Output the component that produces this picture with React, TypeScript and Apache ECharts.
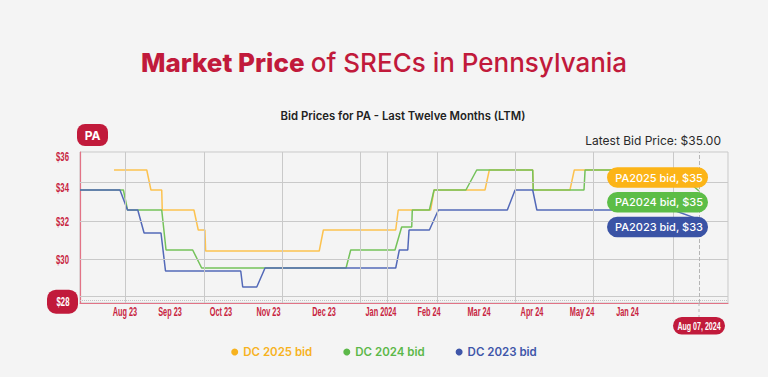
import React, { useEffect, useRef } from "react";
import * as echarts from "echarts";

// ---- data (x = days from the left edge of the window, y = bid price in $) ----
const seriesNames = ["DC 2025 bid", "DC 2024 bid", "DC 2023 bid"];
const pillLabels = ["PA2025 bid, $35", "PA2024 bid, $35", "PA2023 bid, $33"];

const dc2025: [number, number][] = [
  [18.9, 35], [37.1, 35], [39.4, 34], [45.4, 34], [45.7, 33], [63.3, 33],
  [65.7, 32], [69.4, 32], [69.8, 30.95], [132.9, 30.95], [135.2, 32], [175.4, 32],
  [176.8, 33], [194.8, 33], [196.7, 34], [225, 34], [227.4, 35], [251.5, 35],
  [251.8, 34], [272.2, 34], [274.6, 35], [343.9, 35],
];
const dc2024: [number, number][] = [
  [0, 34], [24.1, 34], [26.4, 33], [45.4, 33], [47.8, 31], [62.6, 31],
  [67.6, 30.1], [147.8, 30.1], [150.4, 31], [175, 31], [178.7, 32.15], [184.3, 32.15],
  [184.6, 33], [194.1, 33], [196.7, 34], [214.4, 34], [220.4, 35], [251.5, 35],
  [251.8, 34], [280, 34], [280.6, 35], [330.5, 35], [343.9, 33.95],
];
const dc2023: [number, number][] = [
  [0, 34], [22.2, 34], [26.4, 33], [32.1, 33], [35.6, 31.85], [45, 31.85],
  [47.5, 29.95], [89.3, 29.95], [90.4, 29.15], [98.2, 29.15], [102.8, 30.1], [175.4, 30.1],
  [177.4, 31], [182.1, 31], [182.8, 32], [194.1, 32], [199.1, 33], [237.4, 33],
  [241.7, 34], [251.5, 34], [253.8, 33], [329.4, 33], [343.9, 32.53],
];

const xTickValues = [25, 50, 78.3, 104.7, 135.6, 167.2, 193.9, 221.7, 251.1, 278.9, 304.2];
const xTickLabels = ["Aug 23", "Sep 23", "Oct 23", "Nov 23", "Dec 23", "Jan 2024", "Feb 24", "Mar 24", "Apr 24", "May 24", "Jan 24"];
const xGridValues = [25.4, 69.0, 112.4, 155.8, 170.9, 198.6, 241.8, 285.3, 329.4];
const yTickValues = [28.415, 30.535, 32.415, 34.1, 35.65];
const yTickLabels = ["$28", "$30", "$32", "$34", "$36"];
const yGridValues = [28.7, 30.535, 32.45, 34.365];
const yDotted = 28.5;
const xMin = 0;
const xMax = 360;
const yMin = 28.35;
const yMax = 35.9;
const latestDay = 343.9;
const latestDate = "Aug 07, 2024";
const latestPrice = "$35.00";

// ---- styles ----
const RED = "#c11a3b";
const LABEL_RED = "#c8243f";
const AXIS_RED = "#e27386";
const GRID = "#c9c9c9";
const BG = "#f4f4f4";
const lineColors = ["#fcc24f", "#74c25a", "#5369b8"];
const pillColors = ["#fcb417", "#5cbd47", "#3a53a5"];
const legendColors = ["#f7b21e", "#5cb849", "#3f56a9"];
const FONT = "Inter, 'Open Sans', sans-serif";
const COND = "'Liberation Sans', Arial, sans-serif";

export default function App() {
  const ref = useRef<HTMLDivElement>(null);
  useEffect(() => {
    document.body.style.margin = "0";
    document.body.style.background = BG;
    const chart = echarts.init(ref.current!, undefined, { renderer: "svg" });
    const allData = [dc2025, dc2024, dc2023];
    chart.setOption({
      animation: false,
      backgroundColor: BG,
      grid: {
        left: 80, right: 40, top: 152, bottom: 74,
        show: true, borderColor: GRID, borderWidth: 1, backgroundColor: "transparent",
        outerBoundsMode: "none",
      },
      legend: {
        left: "center", top: 341, icon: "circle", itemWidth: 7, itemHeight: 7, itemGap: 31,
        data: seriesNames.map((n, i) => ({
          name: n,
          itemStyle: { color: legendColors[i] },
          textStyle: { color: legendColors[i] },
        })),
        textStyle: { fontFamily: FONT, fontSize: 11.5, fontWeight: 600 },
        selectedMode: false,
      },
      xAxis: {
        type: "value", min: xMin, max: xMax,
        axisLine: { show: true, lineStyle: { color: AXIS_RED, width: 1.2 } },
        axisTick: { show: false },
        splitLine: { show: false },
        axisLabel: { show: false },
      },
      yAxis: {
        type: "value", min: yMin, max: yMax,
        axisLine: { show: true, lineStyle: { color: AXIS_RED, width: 1.2 } },
        axisTick: { show: false },
        splitLine: { show: false },
        axisLabel: { show: false },
      },
      series: [
        {
          type: "line", name: "grid", data: [], silent: true, z: 1,
          markLine: {
            silent: true, symbol: ["none", "none"], label: { show: false },
            emphasis: { disabled: true },
            lineStyle: { color: GRID, width: 1, type: "solid" },
            data: [
              ...xGridValues.map((v) => ({ xAxis: v })),
              ...yGridValues.map((v) => ({ yAxis: v })),
              { yAxis: yDotted, lineStyle: { type: "dotted", color: "#c4c4c4", width: 1 } },
              { xAxis: latestDay, lineStyle: { type: "dashed", color: "#b5b5b5", width: 1 } },
            ],
          },
        },
        ...seriesNames.map((n, i) => ({
          type: "line", name: n, data: allData[i], showSymbol: false, z: 2 + i,
          lineStyle: { color: lineColors[i], width: 1.5 },
          itemStyle: { color: lineColors[i] },
          emphasis: { disabled: true },
        })),
      ],
    });

    const toX = (v: number) => chart.convertToPixel({ xAxisIndex: 0 }, v) as number;
    const toY = (v: number) => chart.convertToPixel({ yAxisIndex: 0 }, v) as number;
    const px = toX(latestDay);
    const axisBottom = toY(yMin);
    const axisLeft = toX(xMin);
    const pillW = 101;
    const pillH = 20.5;
    const pillRight = px + 9;
    const pillTop0 = 167.3;
    const pillStep = 24.7;

    const xLabelEls = xTickValues.map((v, i) => ({
      type: "text", z: 100, x: toX(v), y: axisBottom + 8.5, scaleX: 0.6,
      style: {
        text: xTickLabels[i], align: "center", verticalAlign: "middle",
        fontFamily: COND, fontSize: 12.2, fontWeight: "bold", fill: LABEL_RED,
      },
    }));
    const yLabelEls = yTickValues.flatMap((v, i) => {
      const y = toY(v);
      const cx = axisLeft - 17.5;
      const text = {
        type: "text", z: 101, x: cx, y, scaleX: 0.62,
        style: {
          text: yTickLabels[i], align: "center", verticalAlign: "middle",
          fontFamily: COND, fontSize: 12.5, fontWeight: "bold",
          fill: i === 0 ? "#fff" : LABEL_RED,
        },
      };
      if (i !== 0) return [text];
      return [
        { type: "rect", z: 100, shape: { x: cx - 15.5, y: y - 12, width: 31, height: 24, r: 9 }, style: { fill: RED } },
        { ...text, x: cx + 0.5 },
      ];
    });

    chart.setOption({
      graphic: [
        {
          type: "text", x: 384, y: 62, z: 100,
          style: {
            text: "{b|Market Price} {n|of SRECs in Pennsylvania}",
            align: "center", verticalAlign: "middle",
            rich: {
              b: { fontFamily: FONT, fontSize: 26, fontWeight: 800, fill: RED, padding: [0, 3, 0, 0] },
              n: { fontFamily: FONT, fontSize: 26, fontWeight: 500, fill: RED },
            },
          },
        },
        {
          type: "text", x: 403, y: 116, z: 100,
          style: {
            text: "Bid Prices for PA - Last Twelve Months (LTM)",
            align: "center", verticalAlign: "middle",
            fontFamily: FONT, fontSize: 11.3, fontWeight: 600, fill: "#222",
          },
        },
        {
          type: "text", x: 721, y: 140.5, z: 100,
          style: {
            text: "Latest Bid Price: " + latestPrice,
            align: "right", verticalAlign: "middle",
            fontFamily: FONT, fontSize: 12, fontWeight: 400, fill: "#2a2a2a",
          },
        },
        { type: "rect", z: 100, shape: { x: 77, y: 124, width: 31, height: 22, r: 8 }, style: { fill: RED } },
        {
          type: "text", z: 101, x: 92.5, y: 135,
          style: { text: "PA", align: "center", verticalAlign: "middle", fontFamily: FONT, fontSize: 12, fontWeight: 700, fill: "#fff" },
        },
        {
          type: "line", z: 50,
          shape: { x1: px, y1: axisBottom, x2: px, y2: 317 },
          style: { stroke: "#b5b5b5", lineWidth: 1, lineDash: [3, 3] },
        },
        { type: "rect", z: 100, shape: { x: px - 26, y: 317, width: 52, height: 17.5, r: 8.75 }, style: { fill: RED } },
        {
          type: "text", z: 101, x: px, y: 326, scaleX: 0.6,
          style: { text: latestDate, align: "center", verticalAlign: "middle", fontFamily: COND, fontSize: 11.8, fontWeight: "bold", fill: "#fff" },
        },
        ...xLabelEls,
        ...yLabelEls,
        ...pillLabels.flatMap((t, i) => [
          {
            type: "rect", z: 100,
            shape: { x: pillRight - pillW, y: pillTop0 + i * pillStep, width: pillW, height: pillH, r: pillH / 2 },
            style: { fill: pillColors[i] },
          },
          {
            type: "text", z: 101, x: pillRight - pillW / 2 + 1.5, y: pillTop0 + i * pillStep + pillH / 2,
            style: { text: t, align: "center", verticalAlign: "middle", fontFamily: FONT, fontSize: 11, fontWeight: 500, fill: "#fff" },
          },
        ]),
      ],
    });

    return () => chart.dispose();
  }, []);
  return (
    <div
      ref={ref}
      style={{ position: "fixed", left: 0, top: 0, width: 768, height: 377, background: BG }}
    />
  );
}
